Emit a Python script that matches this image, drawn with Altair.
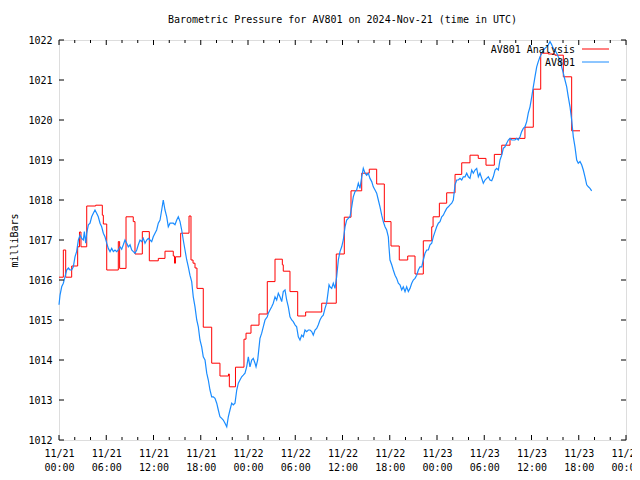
import altair as alt
import pandas as pd

TITLE = "Barometric Pressure for AV801 on 2024-Nov-21 (time in UTC)"
Y_TITLE = "milliBars"
SERIES = ["AV801 Analysis", "AV801"]
COLORS = ["#ff0000", "#1a8cff"]
START = pd.Timestamp("2024-11-21 00:00:00")

# Analysis (hourly steps): hours since start, pressure
RED_H = [0.00, 0.55, 0.85, 1.61, 2.37, 2.60, 2.79, 3.52, 4.66, 5.50, 5.63, 6.06,
         7.53, 7.70, 8.51, 9.43, 9.65, 10.58, 11.47, 12.61, 13.46, 14.51, 14.67,
         14.79, 15.45, 16.51, 16.76, 17.02, 17.27, 17.52, 18.32, 19.39, 20.44,
         21.52, 21.63, 22.41, 23.49, 23.75, 24.38, 25.40, 26.45, 27.43, 28.36,
         28.48, 29.33, 30.31, 31.32, 33.36, 35.21, 36.23, 37.08, 38.44, 39.40,
         40.34, 41.31, 42.16, 43.21, 44.28, 45.21, 46.26, 47.33, 47.50, 48.30,
         49.23, 50.29, 51.14, 52.19, 53.24, 54.22, 55.28, 56.22, 57.27, 59.17,
         60.23, 61.17, 62.13, 62.98, 64.04, 65.10, 66.16]
RED_P = [1016.07, 1016.75, 1016.07, 1016.35, 1016.83, 1017.20, 1016.83, 1017.85,
         1017.87, 1017.62, 1017.40, 1016.25, 1016.96, 1016.29, 1017.58, 1017.46,
         1016.65, 1017.21, 1016.48, 1016.54, 1016.72, 1016.60, 1016.42, 1016.58,
         1017.17, 1017.60, 1016.50, 1016.42, 1016.30, 1015.79, 1014.82, 1013.92,
         1013.60, 1013.65, 1013.33, 1013.82, 1014.52, 1014.67, 1014.87, 1015.15,
         1015.96, 1016.52, 1016.38, 1016.22, 1015.71, 1015.10, 1015.20, 1015.42,
         1016.65, 1017.57, 1018.23, 1018.67, 1018.77, 1018.40, 1017.46, 1016.85,
         1016.50, 1016.60, 1016.15, 1016.98, 1017.33, 1017.58, 1017.92, 1018.18,
         1018.64, 1018.93, 1019.12, 1019.04, 1018.87, 1019.14, 1019.37, 1019.54,
         1019.82, 1020.77, 1021.67, 1021.65, 1021.62, 1021.08, 1019.73, 1019.73]

# Station observations: hours since start, pressure
BLUE_H = [0.00, 0.13, 0.34, 0.55, 0.76, 0.97, 1.19, 1.40, 1.61, 1.82, 2.03, 2.24,
          2.46, 2.67, 2.88, 3.09, 3.22, 3.39, 3.52, 3.73, 3.94, 4.15, 4.36, 4.57,
          4.78, 4.99, 5.21, 5.42, 5.63, 5.84, 6.06, 6.26, 6.48, 6.69, 6.90, 7.11,
          7.33, 7.53, 7.75, 7.96, 8.17, 8.38, 8.60, 8.80, 9.02, 9.23, 9.44, 9.65,
          9.87, 10.07, 10.29, 10.50, 10.70, 10.92, 11.14, 11.34, 11.56, 11.77,
          11.97, 12.19, 12.40, 12.61, 12.83, 13.04, 13.24, 13.46, 13.68, 13.88,
          14.10, 14.31, 14.51, 14.73, 14.95, 15.15, 15.37, 15.58, 15.78, 16.00,
          16.22, 16.42, 16.63, 16.85, 17.05, 17.27, 17.49, 17.69, 17.90, 18.12,
          18.32, 18.54, 18.76, 18.96, 19.17, 19.39, 19.59, 19.81, 20.03, 20.23,
          20.44, 20.66, 20.86, 21.08, 21.30, 21.50, 21.71, 21.93, 22.13, 22.35,
          22.57, 22.77, 22.98, 23.20, 23.40, 23.62, 23.83, 24.04, 24.25, 24.47,
          24.67, 24.89, 25.02, 25.23, 25.52, 25.74, 25.94, 26.16, 26.45, 26.58,
          26.79, 27.01, 27.21, 27.43, 27.64, 27.85, 28.06, 28.28, 28.48, 28.70,
          28.91, 29.12, 29.33, 29.55, 29.75, 29.97, 30.18, 30.39, 30.60, 30.82,
          31.02, 31.24, 31.45, 31.66, 31.87, 32.09, 32.29, 32.51, 32.72, 32.93,
          33.14, 33.36, 33.56, 33.78, 33.99, 34.29, 34.41, 34.63, 34.83, 35.05,
          35.26, 35.47, 35.68, 35.90, 36.10, 36.32, 36.53, 36.74, 36.95, 37.17,
          37.37, 37.59, 37.80, 38.01, 38.22, 38.44, 38.64, 38.86, 39.07, 39.28,
          39.49, 39.71, 39.91, 40.13, 40.34, 40.55, 40.76, 40.98, 41.18, 41.40,
          41.61, 41.82, 41.90, 42.03, 42.25, 42.45, 42.67, 42.88, 43.09, 43.30,
          43.52, 43.72, 43.94, 44.15, 44.36, 44.57, 44.79, 44.99, 45.21, 45.42,
          45.63, 45.84, 46.06, 46.26, 46.48, 46.69, 46.90, 47.11, 47.33, 47.53,
          47.75, 47.96, 48.17, 48.38, 48.60, 48.80, 49.02, 49.23, 49.44, 49.65,
          49.87, 50.07, 50.29, 50.50, 50.71, 50.92, 51.14, 51.34, 51.56, 51.77,
          51.98, 52.19, 52.41, 52.61, 52.83, 53.04, 53.25, 53.46, 53.68, 53.88,
          54.10, 54.31, 54.52, 54.73, 54.95, 55.15, 55.37, 55.58, 55.79, 56.00,
          56.22, 56.42, 56.63, 56.85, 57.06, 57.27, 57.49, 57.69, 57.90, 58.12,
          58.32, 58.54, 58.75, 58.96, 59.17, 59.39, 59.59, 59.81, 60.03, 60.23,
          60.44, 60.66, 60.86, 61.08, 61.30, 61.50, 61.71, 61.93, 62.13, 62.35,
          62.57, 62.77, 62.98, 63.20, 63.40, 63.62, 63.83, 64.04, 64.25, 64.47,
          64.67, 64.89, 65.10, 65.31, 65.52, 65.74, 65.94, 66.16, 66.37, 66.58,
          66.79, 67.01, 67.22, 67.43, 67.64]
BLUE_P = [1015.38, 1015.62, 1015.83, 1015.92, 1016.08, 1016.25, 1016.30, 1016.25,
          1016.25, 1016.33, 1016.58, 1016.71, 1017.00, 1017.12, 1017.04, 1017.00,
          1017.21, 1016.92, 1017.17, 1017.38, 1017.42, 1017.58, 1017.67, 1017.75,
          1017.67, 1017.58, 1017.42, 1017.33, 1017.17, 1017.08, 1016.92, 1016.79,
          1016.71, 1016.79, 1016.71, 1016.75, 1016.71, 1016.75, 1016.83, 1016.77,
          1016.88, 1017.00, 1016.92, 1016.83, 1016.88, 1016.75, 1016.71, 1016.67,
          1016.75, 1016.88, 1017.00, 1016.96, 1017.04, 1016.92, 1017.00, 1017.04,
          1017.00, 1016.96, 1017.08, 1017.17, 1017.25, 1017.42, 1017.50, 1017.75,
          1018.00, 1017.75, 1017.58, 1017.33, 1017.42, 1017.42, 1017.42, 1017.38,
          1017.50, 1017.58, 1017.46, 1017.25, 1017.00, 1016.75, 1016.50, 1016.33,
          1016.12, 1015.96, 1015.58, 1015.33, 1015.00, 1014.83, 1014.50, 1014.33,
          1014.08, 1014.00, 1013.67, 1013.50, 1013.25, 1013.08, 1013.08, 1013.04,
          1012.92, 1012.75, 1012.58, 1012.54, 1012.50, 1012.42, 1012.33, 1012.58,
          1012.75, 1012.92, 1012.88, 1012.92, 1013.25, 1013.42, 1013.50, 1013.58,
          1013.62, 1013.67, 1013.83, 1014.08, 1013.83, 1014.00, 1014.04, 1013.92,
          1013.83, 1014.00, 1014.54, 1014.67, 1014.83, 1015.00, 1015.08, 1015.17,
          1015.25, 1015.33, 1015.42, 1015.58, 1015.50, 1015.67, 1015.58, 1015.46,
          1015.71, 1015.75, 1015.50, 1015.33, 1015.08, 1015.00, 1014.96, 1014.88,
          1014.83, 1014.58, 1014.50, 1014.62, 1014.58, 1014.75, 1014.71, 1014.75,
          1014.75, 1014.71, 1014.62, 1014.75, 1014.79, 1014.88, 1015.00, 1015.08,
          1015.12, 1015.29, 1015.42, 1015.88, 1015.83, 1015.79, 1015.92, 1015.79,
          1016.08, 1016.50, 1016.71, 1016.83, 1017.00, 1017.33, 1017.50, 1017.54,
          1017.58, 1017.83, 1018.08, 1018.21, 1018.25, 1018.42, 1018.29, 1018.58,
          1018.79, 1018.67, 1018.62, 1018.67, 1018.54, 1018.46, 1018.33, 1018.25,
          1018.17, 1018.00, 1017.83, 1017.62, 1017.46, 1017.33, 1017.25, 1017.08,
          1016.83, 1016.50, 1016.38, 1016.25, 1016.12, 1016.04, 1015.92, 1015.88,
          1015.75, 1015.83, 1015.71, 1015.83, 1015.71, 1015.79, 1015.92, 1016.00,
          1016.04, 1016.12, 1016.25, 1016.33, 1016.33, 1016.50, 1016.67, 1016.75,
          1016.75, 1016.88, 1016.92, 1017.08, 1017.21, 1017.33, 1017.42, 1017.46,
          1017.58, 1017.62, 1017.71, 1017.79, 1017.83, 1017.88, 1017.92, 1018.00,
          1018.38, 1018.50, 1018.50, 1018.54, 1018.50, 1018.58, 1018.58, 1018.67,
          1018.58, 1018.54, 1018.75, 1018.67, 1018.75, 1018.79, 1018.58, 1018.67,
          1018.54, 1018.42, 1018.50, 1018.54, 1018.58, 1018.50, 1018.48, 1018.58,
          1018.75, 1018.79, 1018.75, 1019.00, 1019.12, 1019.29, 1019.33, 1019.42,
          1019.50, 1019.54, 1019.50, 1019.50, 1019.50, 1019.54, 1019.50, 1019.58,
          1019.71, 1019.79, 1019.83, 1019.96, 1020.17, 1020.33, 1020.58, 1020.83,
          1021.08, 1021.33, 1021.46, 1021.58, 1021.67, 1021.75, 1021.79, 1021.83,
          1021.88, 1021.96, 1021.88, 1021.79, 1021.75, 1021.67, 1021.58, 1021.50,
          1021.33, 1021.17, 1021.00, 1020.83, 1020.58, 1020.33, 1020.00, 1019.58,
          1019.33, 1019.00, 1018.92, 1018.96, 1018.88, 1018.75, 1018.58, 1018.38,
          1018.33, 1018.29, 1018.23]

X_MAJOR_H = [0, 6, 12, 18, 24, 30, 36, 42, 48, 54, 60, 66, 72]
X_MINOR_H = [2, 4, 8, 10, 14, 16, 20, 22, 26, 28, 32, 34, 38, 40, 44, 46,
             50, 52, 56, 58, 62, 64, 68, 70]
Y_TICKS = [1012, 1013, 1014, 1015, 1016, 1017, 1018, 1019, 1020, 1021, 1022]

W, H = 567, 400
FONT = "DejaVu Sans Mono"


def iso(hours):
    return [(START + pd.to_timedelta(h, unit="h")).strftime("%Y-%m-%dT%H:%M:%SZ") for h in hours]


red_df = pd.DataFrame({"time": iso(RED_H), "p": RED_P})
blue_df = pd.DataFrame({"time": iso(BLUE_H), "p": BLUE_P})
major_df = pd.DataFrame({"time": iso(X_MAJOR_H)})
minor_df = pd.DataFrame({"time": iso(X_MINOR_H)})
ytick_df = pd.DataFrame({"p": Y_TICKS})

x_dom = [alt.DateTime(year=2024, month=11, date=21, hours=0, utc=True),
         alt.DateTime(year=2024, month=11, date=24, hours=0, utc=True)]
x_vals = [alt.DateTime(year=2024, month=11, date=21 + h // 24, hours=h % 24, utc=True)
          for h in X_MAJOR_H]

x_enc = alt.X(
    "time:T",
    scale=alt.Scale(type="utc", domain=x_dom, nice=False),
    axis=alt.Axis(
        values=x_vals,
        labelExpr="[utcFormat(datum.value, '%m/%d'), utcFormat(datum.value, '%H:%M')]",
        title=None, ticks=False, tickSize=0, labelPadding=8, labelLineHeight=14,
        labelFont=FONT, labelFontSize=10, labelColor="black", domain=False,
        grid=False, labelFlush=False, labelOverlap=False,
    ),
)
y_enc = alt.Y(
    "p:Q",
    scale=alt.Scale(domain=[1012, 1022], nice=False, zero=False),
    axis=alt.Axis(
        values=Y_TICKS, format="d", title=Y_TITLE, ticks=False, tickSize=0, labelPadding=7,
        labelFont=FONT, labelFontSize=10, labelColor="black", domain=False,
        grid=False, titleFont=FONT, titleFontSize=10, titleFontWeight="normal",
        titleColor="black", titleX=-45, titleY=H / 2, titleBaseline="middle",
        titleAlign="center",
    ),
)

red = alt.Chart(red_df).mark_line(color=COLORS[0], strokeWidth=1, interpolate="step-after").encode(x=x_enc, y=y_enc)
blue = alt.Chart(blue_df).mark_line(color=COLORS[1], strokeWidth=1.2).encode(x=x_enc, y=y_enc)

tick_style = dict(color="black", strokeWidth=1)
bot_major = alt.Chart(major_df).mark_rule(**tick_style).encode(x=x_enc, y=alt.value(H), y2=alt.value(H - 5))
top_major = alt.Chart(major_df).mark_rule(**tick_style).encode(x=x_enc, y=alt.value(0), y2=alt.value(5))
bot_minor = alt.Chart(minor_df).mark_rule(**tick_style).encode(x=x_enc, y=alt.value(H), y2=alt.value(H - 3))
top_minor = alt.Chart(minor_df).mark_rule(**tick_style).encode(x=x_enc, y=alt.value(0), y2=alt.value(3))
left_ticks = alt.Chart(ytick_df).mark_rule(**tick_style).encode(y=y_enc, x=alt.value(0), x2=alt.value(5))
right_ticks = alt.Chart(ytick_df).mark_rule(**tick_style).encode(y=y_enc, x=alt.value(W), x2=alt.value(W - 5))

leg_text_x = 516
leg_line = (523, 550)
leg_layers = []
for i, (name, col) in enumerate(zip(SERIES, COLORS)):
    ty = 10 + 13 * i
    leg_layers.append(
        alt.Chart(pd.DataFrame({"name": [name]})).mark_text(
            align="right", baseline="middle", font=FONT, fontSize=10, color="black"
        ).encode(text="name:N", x=alt.value(leg_text_x), y=alt.value(ty))
    )
    leg_layers.append(
        alt.Chart(pd.DataFrame({"name": [name]})).mark_rule(color=col, strokeWidth=1).encode(
            x=alt.value(leg_line[0]), x2=alt.value(leg_line[1]), y=alt.value(ty - 1)
        )
    )

chart = alt.layer(
    red, blue, bot_major, top_major, bot_minor, top_minor, left_ticks, right_ticks, *leg_layers
).properties(
    width=W, height=H,
    title=alt.TitleParams(TITLE, font=FONT, fontSize=10, fontWeight="normal", color="black",
                          anchor="middle", offset=10),
    autosize=alt.AutoSizeParams(type="none"),
    padding={"left": 51, "top": 32, "right": 6, "bottom": 32},
).configure_view(stroke="black", strokeWidth=1).configure(background="white")

chart.save("out.html", embed_options={"renderer": "svg", "actions": False})
